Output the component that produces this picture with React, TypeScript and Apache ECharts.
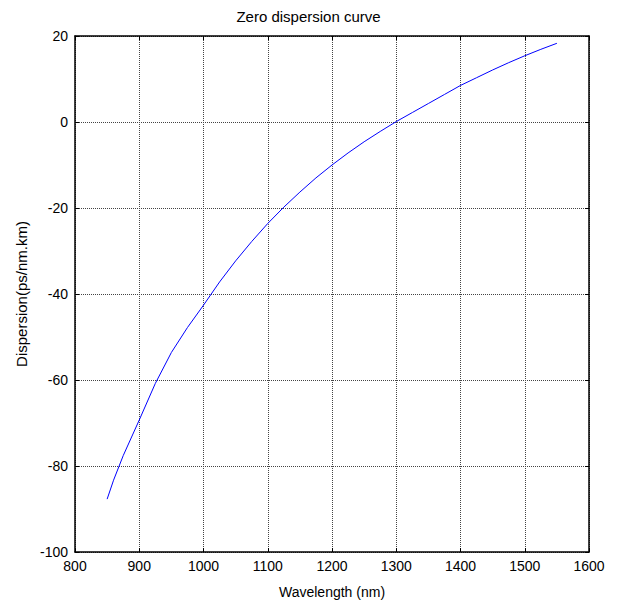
import React, { useEffect, useRef } from "react";
import * as echarts from "echarts";

const wavelengths = [850, 860, 875, 900, 925, 950, 975, 1000, 1025, 1050, 1075, 1100, 1125, 1150, 1175, 1200, 1225, 1250, 1275, 1300, 1325, 1350, 1375, 1400, 1425, 1450, 1475, 1500, 1525, 1550];
const dispersion = [-87.7, -83.3, -77.6, -69.3, -60.8, -53.6, -47.8, -42.6, -37.2, -32.3, -27.8, -23.6, -19.8, -16.3, -13, -10, -7.2, -4.6, -2.2, 0.1, 2.2, 4.3, 6.4, 8.5, 10.3, 12.1, 13.8, 15.4, 16.9, 18.3];

const FONT = "Liberation Sans, Arial, sans-serif";

export default function App() {
  const ref = useRef<HTMLDivElement>(null);
  useEffect(() => {
    if (!ref.current) return;
    const chart = echarts.init(ref.current, null, { renderer: "svg" });
    const data = wavelengths.map((w, i) => [w, dispersion[i]]);
    const axisLine = { show: true, onZero: false, lineStyle: { color: "#000", width: 1.5 } };
    const tick = { show: true, inside: true, length: 4, lineStyle: { color: "#000" } };
    const grid = { show: true, lineStyle: { color: "#444", type: [1, 1] as any, width: 1 } };
    const fmt = (v: number) => String(v);
    chart.setOption({
      animation: false,
      backgroundColor: "#fff",
      title: {
        text: "Zero dispersion curve",
        left: "center",
        top: 4,
        textStyle: { fontFamily: FONT, fontSize: 15, fontWeight: "normal", color: "#000" },
      },
      grid: { left: 75, top: 36, right: 28, bottom: 58, containLabel: false },
      xAxis: [
        {
          type: "value",
          min: 800,
          max: 1600,
          interval: 100,
          name: "Wavelength (nm)",
          nameLocation: "middle",
          nameGap: 33,
          nameTextStyle: { fontFamily: FONT, fontSize: 14, color: "#000" },
          axisLine,
          axisTick: tick,
          axisLabel: { fontFamily: FONT, fontSize: 14, color: "#000", margin: 7, formatter: fmt },
          splitLine: grid,
        },
        {
          type: "value",
          position: "top",
          min: 800,
          max: 1600,
          interval: 100,
          axisLine,
          axisTick: tick,
          axisLabel: { show: false },
          splitLine: { show: false },
        },
      ],
      yAxis: [
        {
          type: "value",
          min: -100,
          max: 20,
          interval: 20,
          name: "Dispersion(ps/nm.km)",
          nameLocation: "middle",
          nameGap: 46,
          nameTextStyle: { fontFamily: FONT, fontSize: 15, color: "#000" },
          axisLine,
          axisTick: tick,
          axisLabel: { fontFamily: FONT, fontSize: 14, color: "#000", margin: 7, formatter: fmt },
          splitLine: grid,
        },
        {
          type: "value",
          position: "right",
          min: -100,
          max: 20,
          interval: 20,
          axisLine,
          axisTick: tick,
          axisLabel: { show: false },
          splitLine: { show: false },
        },
      ],
      series: [
        {
          type: "line",
          data,
          xAxisIndex: 0,
          yAxisIndex: 0,
          showSymbol: false,
          smooth: false,
          lineStyle: { color: "#0000ff", width: 1 },
        },
      ],
    });
    return () => chart.dispose();
  }, []);
  return <div ref={ref} style={{ width: 617, height: 610, position: "absolute", left: 0, top: 0 }} />;
}
